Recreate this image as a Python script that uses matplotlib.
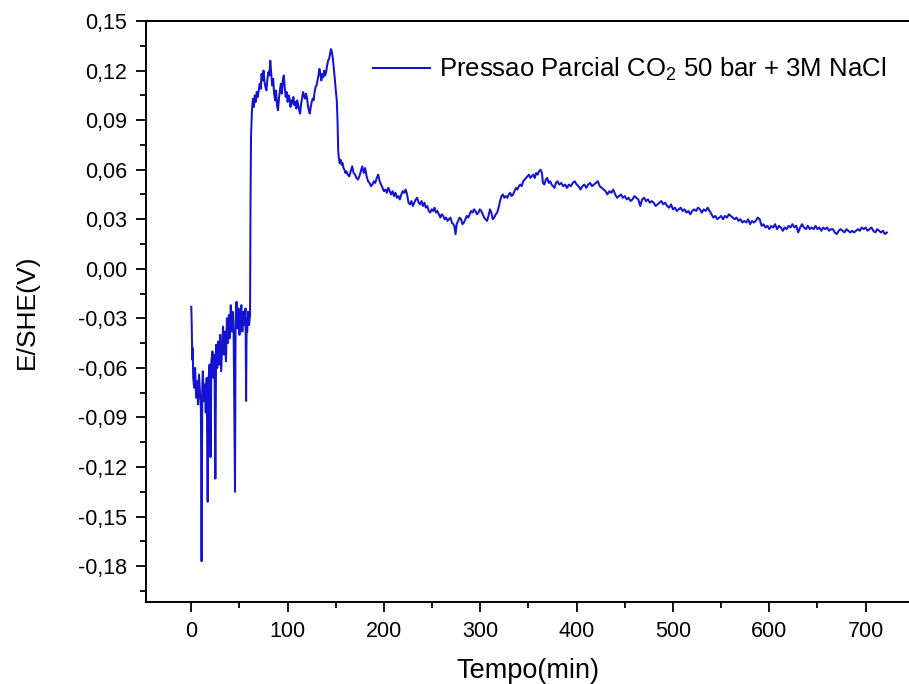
import numpy as np
import matplotlib
matplotlib.use("Agg")
import matplotlib.pyplot as plt
from matplotlib.ticker import MultipleLocator, FuncFormatter

# ---- data ----
time_a = [0, 0.5, 1, 1.5, 2, 3, 4, 5, 6, 7, 8, 9, 10, 10.7, 11.4, 12, 13, 14, 15, 16,
          17, 17.8, 19, 20, 20.8, 22, 23, 24, 25, 25.8, 27, 28, 29, 30, 31, 32, 33, 34,
          35, 36, 37, 38, 39, 40, 41, 42, 43, 44, 45.4, 46, 47, 48, 49, 50, 51, 52, 53,
          54, 55, 56.3, 56.9, 57.5, 58, 59, 60, 61]
volt_a = [-0.023, -0.035, -0.055, -0.048, -0.066, -0.072, -0.060, -0.078, -0.068, -0.082,
          -0.064, -0.075, -0.085, -0.177, -0.072, -0.062, -0.080, -0.070, -0.087, -0.066,
          -0.141, -0.068, -0.058, -0.114, -0.056, -0.050, -0.066, -0.052, -0.127, -0.046,
          -0.060, -0.044, -0.058, -0.040, -0.062, -0.048, -0.035, -0.052, -0.038, -0.056,
          -0.030, -0.045, -0.028, -0.042, -0.022, -0.038, -0.026, -0.040, -0.135, -0.030,
          -0.020, -0.036, -0.024, -0.040, -0.028, -0.022, -0.038, -0.026, -0.034, -0.024,
          -0.080, -0.030, -0.038, -0.026, -0.034, -0.028]

time_b = [61.5, 62, 63, 64, 65, 66, 67, 68, 69, 70, 71, 72, 73, 74, 75, 76, 77, 78, 79, 80,
          81, 82, 83, 84, 85, 86, 87, 88, 89, 90, 91, 92, 93, 94, 95, 96, 97, 98, 99, 100,
          101, 102, 103, 104, 105, 106, 107, 108, 109, 110, 111, 112, 113, 114, 115, 116,
          117, 118, 119, 120, 121, 122, 123, 124, 125, 126, 127, 128, 129, 130, 131, 132,
          133, 134, 135, 136, 137, 138, 139, 140, 141, 142, 143, 144, 145, 146, 147, 148,
          149, 150, 151, 151.8, 152.5, 153, 154, 155, 156, 157, 158, 159, 160]
volt_b = [0.040, 0.080, 0.096, 0.103, 0.098, 0.105, 0.101, 0.107, 0.104, 0.108, 0.112, 0.109,
          0.118, 0.114, 0.120, 0.113, 0.110, 0.108, 0.115, 0.119, 0.117, 0.126, 0.118, 0.111,
          0.115, 0.106, 0.102, 0.108, 0.099, 0.096, 0.103, 0.108, 0.112, 0.106, 0.114, 0.117,
          0.110, 0.104, 0.107, 0.101, 0.105, 0.103, 0.098, 0.102, 0.100, 0.104, 0.099, 0.101,
          0.097, 0.102, 0.099, 0.096, 0.094, 0.100, 0.103, 0.107, 0.105, 0.103, 0.106, 0.104,
          0.099, 0.096, 0.094, 0.098, 0.101, 0.103, 0.102, 0.107, 0.110, 0.111, 0.114, 0.117,
          0.121, 0.118, 0.114, 0.118, 0.116, 0.120, 0.117, 0.119, 0.123, 0.126, 0.127, 0.130,
          0.133, 0.131, 0.127, 0.121, 0.115, 0.108, 0.102, 0.090, 0.072, 0.068, 0.064, 0.066,
          0.063, 0.064, 0.061, 0.060, 0.058]

time_c = [161, 162.5, 164, 165.5, 167, 168.5, 170, 171.5, 173, 174.5, 176, 177.5, 179, 180.5,
          182, 183.5, 185, 186.5, 188, 189.5, 191, 192.5, 194, 195.5, 197, 198.5, 200, 201.5,
          203, 204.5, 206, 207.5, 209, 210.5, 212, 213.5, 215, 216.5, 218, 219.5, 221, 222.5,
          224, 225.5, 227, 228.5, 230, 231.5, 233, 234.5, 236, 237.5, 239, 240.5, 242, 243.5,
          245, 246.5, 248, 249.5, 251, 252.5, 254, 255.5, 257, 258.5, 260, 261.5, 263, 264.5,
          266, 267.5, 269, 270.5, 272, 273, 274.3, 275.5, 277, 278.5, 280, 281.5, 283, 284.5,
          286, 287.5, 289, 290.5, 292, 293.5, 295, 296.5, 298, 299.5, 301, 302.5, 304, 305.5,
          307, 308.5, 310, 311.5, 313, 314.5, 316, 317.5, 319, 320.5, 322, 323.5, 325, 326.5,
          328, 329.5, 331, 332.5, 334, 335.5, 337, 338.5, 340, 341.5, 343, 344.5, 346, 347.5,
          349, 350.5, 352, 353.5, 355, 356.5, 358, 359.5, 361, 362.5, 364, 365, 366.5]
volt_c = [0.059, 0.057, 0.056, 0.059, 0.062, 0.058, 0.057, 0.055, 0.054, 0.056, 0.059, 0.062,
          0.058, 0.061, 0.056, 0.053, 0.052, 0.050, 0.051, 0.053, 0.052, 0.055, 0.057, 0.053,
          0.051, 0.049, 0.047, 0.048, 0.046, 0.049, 0.047, 0.045, 0.047, 0.044, 0.046, 0.043,
          0.044, 0.042, 0.045, 0.047, 0.046, 0.048, 0.045, 0.040, 0.039, 0.041, 0.038, 0.040,
          0.042, 0.043, 0.040, 0.039, 0.041, 0.038, 0.040, 0.037, 0.038, 0.035, 0.034, 0.036,
          0.035, 0.037, 0.034, 0.035, 0.033, 0.031, 0.033, 0.032, 0.030, 0.031, 0.029, 0.030,
          0.031, 0.028, 0.027, 0.026, 0.021, 0.027, 0.029, 0.031, 0.030, 0.027, 0.028, 0.030,
          0.032, 0.031, 0.033, 0.035, 0.034, 0.036, 0.035, 0.033, 0.034, 0.036, 0.035, 0.033,
          0.031, 0.030, 0.029, 0.032, 0.036, 0.034, 0.030, 0.031, 0.033, 0.034, 0.037, 0.041,
          0.044, 0.045, 0.043, 0.044, 0.043, 0.045, 0.046, 0.044, 0.045, 0.047, 0.049, 0.048,
          0.050, 0.051, 0.050, 0.053, 0.054, 0.055, 0.056, 0.057, 0.055, 0.056, 0.057, 0.055,
          0.058, 0.057, 0.059, 0.060, 0.058, 0.052, 0.051]

time_d = [368, 369.5, 371, 372.5, 374, 375.5, 377, 378.5, 380, 382, 384, 386, 388, 390, 392,
          394, 396, 398, 400, 402, 404, 406, 408, 410, 412, 414, 416, 418, 420, 422, 424, 426,
          428, 430, 432, 434, 436, 438, 440, 442, 444, 446, 448, 450, 452, 454, 456, 458, 460,
          462, 464, 466, 468, 470, 472, 474, 476, 478, 480, 482, 484, 486, 488, 490, 492, 494,
          496, 498, 500, 502, 504, 506, 508, 510, 512, 514, 516, 518, 520, 522, 524, 526, 528,
          530, 532, 534, 536, 538, 540, 542, 544, 546, 548, 550]
volt_d = [0.054, 0.055, 0.052, 0.053, 0.051, 0.050, 0.049, 0.052, 0.053, 0.051, 0.052, 0.050,
          0.051, 0.049, 0.051, 0.050, 0.052, 0.053, 0.051, 0.050, 0.048, 0.050, 0.051, 0.049,
          0.051, 0.052, 0.050, 0.051, 0.052, 0.053, 0.050, 0.049, 0.048, 0.047, 0.045, 0.047,
          0.046, 0.048, 0.045, 0.043, 0.044, 0.045, 0.043, 0.044, 0.042, 0.043, 0.041, 0.042,
          0.044, 0.043, 0.042, 0.038, 0.042, 0.043, 0.041, 0.042, 0.040, 0.041, 0.040, 0.038,
          0.039, 0.040, 0.041, 0.039, 0.040, 0.038, 0.037, 0.039, 0.036, 0.037, 0.035, 0.036,
          0.037, 0.035, 0.036, 0.034, 0.035, 0.033, 0.035, 0.036, 0.035, 0.037, 0.036, 0.034,
          0.036, 0.035, 0.037, 0.035, 0.033, 0.031, 0.032, 0.030, 0.031, 0.032]

time_e = [552, 554, 556, 558, 560, 562, 564, 566, 568, 570, 572, 574, 576, 578, 580, 582, 584,
          586, 588, 590, 592, 594, 596, 598, 600, 602, 604, 606, 608, 610, 612, 614, 616, 618,
          620, 622, 624, 626, 628, 630, 632, 634, 636, 638, 640, 642, 644, 646, 648, 650, 652,
          654, 656, 658, 660, 662, 664, 666, 668, 670, 672, 674, 676, 678, 680, 682, 684, 686,
          688, 690, 692, 694, 696, 698, 700, 702, 704, 706, 708, 710, 712, 714, 716, 718, 720,
          722]
volt_e = [0.030, 0.032, 0.031, 0.033, 0.032, 0.031, 0.030, 0.031, 0.029, 0.030, 0.028, 0.029,
          0.028, 0.030, 0.027, 0.029, 0.028, 0.029, 0.031, 0.030, 0.026, 0.027, 0.025, 0.026,
          0.024, 0.026, 0.025, 0.027, 0.024, 0.026, 0.025, 0.023, 0.025, 0.024, 0.026, 0.025,
          0.027, 0.025, 0.026, 0.022, 0.025, 0.027, 0.025, 0.024, 0.026, 0.024, 0.025, 0.024,
          0.026, 0.024, 0.025, 0.023, 0.025, 0.024, 0.025, 0.023, 0.024, 0.024, 0.022, 0.021,
          0.023, 0.024, 0.023, 0.022, 0.024, 0.023, 0.022, 0.023, 0.022, 0.023, 0.024, 0.023,
          0.025, 0.024, 0.025, 0.023, 0.024, 0.025, 0.023, 0.022, 0.024, 0.023, 0.022, 0.023,
          0.021, 0.022]

series_label = "Pressao Parcial CO$_2$ 50 bar + 3M NaCl"
x_label = "Tempo(min)"
y_label = "E/SHE(V)"

time = np.concatenate([time_a, time_b, time_c, time_d, time_e])
volt = np.concatenate([volt_a, volt_b, volt_c, volt_d, volt_e])

# ---- figure ----
plt.rcParams['font.family'] = ['Liberation Sans', 'DejaVu Sans']
plt.rcParams['mathtext.fontset'] = 'custom'
plt.rcParams['mathtext.rm'] = 'Liberation Sans'

fig = plt.figure(figsize=(9.09, 6.84), dpi=100)
ax = fig.add_axes([146 / 909, 1 - 602 / 684, 1 - 146 / 909, (602 - 21) / 684])

ax.plot(time, volt, color='#1414d0', lw=1.45, label=series_label)

ax.set_xlim(-47, 745)
ax.set_ylim(-0.2017, 0.15)

ax.xaxis.set_major_locator(MultipleLocator(100))
ax.xaxis.set_minor_locator(MultipleLocator(50))
ax.yaxis.set_major_locator(MultipleLocator(0.03))
ax.yaxis.set_minor_locator(MultipleLocator(0.015))
ax.yaxis.set_major_formatter(FuncFormatter(lambda v, p: f"{v:.2f}".replace('.', ',').replace('-0,00', '0,00')))

ax.tick_params(axis='both', which='major', direction='out', length=7.5, width=1.3,
               labelsize=15.5, pad=6)
ax.tick_params(axis='both', which='minor', direction='out', length=4.5, width=1.3)
ax.tick_params(top=False, right=False, which='both')

for s in ['left', 'bottom', 'top']:
    ax.spines[s].set_linewidth(1.4)
ax.spines['right'].set_visible(False)

ax.set_xlabel(x_label, fontsize=19.5, labelpad=12)
ax.set_ylabel(y_label, fontsize=19, labelpad=28)

ax.legend(loc='upper right', frameon=False, fontsize=18.5, handlelength=2.2,
          handletextpad=0.35, bbox_to_anchor=(1.0, 0.98))

fig.savefig('out.png', dpi=100)
